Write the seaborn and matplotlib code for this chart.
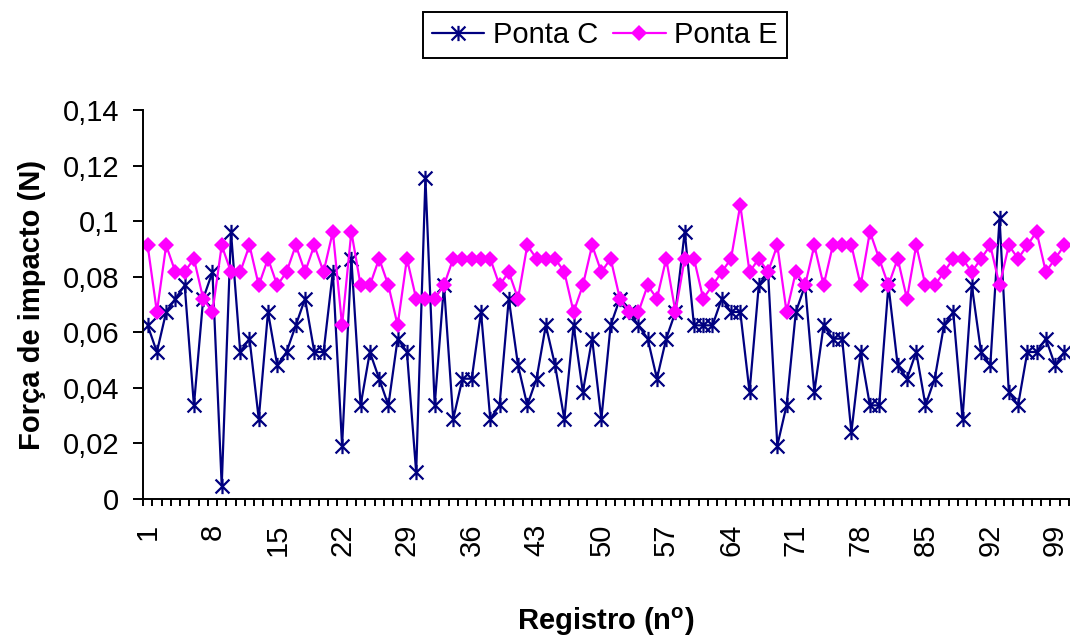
import numpy as np
import pandas as pd
import seaborn as sns
import matplotlib
matplotlib.use('Agg')
import matplotlib.pyplot as plt
from matplotlib.path import Path

# Registro numbers (1..100)
registro = list(range(1, 101))

# Força de impacto (N)
ponta_c = [0.0625, 0.0529, 0.0673, 0.0721, 0.0769, 0.0337, 0.0721, 0.0817, 0.0048, 0.0962,
           0.0529, 0.0577, 0.0288, 0.0673, 0.0481, 0.0529, 0.0625, 0.0721, 0.0529, 0.0529,
           0.0817, 0.0192, 0.0865, 0.0337, 0.0529, 0.0433, 0.0337, 0.0577, 0.0529, 0.0096,
           0.1154, 0.0337, 0.0769, 0.0288, 0.0433, 0.0433, 0.0673, 0.0288, 0.0337, 0.0721,
           0.0481, 0.0337, 0.0433, 0.0625, 0.0481, 0.0288, 0.0625, 0.0385, 0.0577, 0.0288,
           0.0625, 0.0721, 0.0673, 0.0625, 0.0577, 0.0433, 0.0577, 0.0673, 0.0962, 0.0625,
           0.0625, 0.0625, 0.0721, 0.0673, 0.0673, 0.0385, 0.0769, 0.0817, 0.0192, 0.0337,
           0.0673, 0.0769, 0.0385, 0.0625, 0.0577, 0.0577, 0.0240, 0.0529, 0.0337, 0.0337,
           0.0769, 0.0481, 0.0433, 0.0529, 0.0337, 0.0433, 0.0625, 0.0673, 0.0288, 0.0769,
           0.0529, 0.0481, 0.1010, 0.0385, 0.0337, 0.0529, 0.0529, 0.0577, 0.0481, 0.0529]

ponta_e = [0.0913, 0.0673, 0.0913, 0.0817, 0.0817, 0.0865, 0.0721, 0.0673, 0.0913, 0.0817,
           0.0817, 0.0913, 0.0769, 0.0865, 0.0769, 0.0817, 0.0913, 0.0817, 0.0913, 0.0817,
           0.0962, 0.0625, 0.0962, 0.0769, 0.0769, 0.0865, 0.0769, 0.0625, 0.0865, 0.0721,
           0.0721, 0.0721, 0.0769, 0.0865, 0.0865, 0.0865, 0.0865, 0.0865, 0.0769, 0.0817,
           0.0721, 0.0913, 0.0865, 0.0865, 0.0865, 0.0817, 0.0673, 0.0769, 0.0913, 0.0817,
           0.0865, 0.0721, 0.0673, 0.0673, 0.0769, 0.0721, 0.0865, 0.0673, 0.0865, 0.0865,
           0.0721, 0.0769, 0.0817, 0.0865, 0.1058, 0.0817, 0.0865, 0.0817, 0.0913, 0.0673,
           0.0817, 0.0769, 0.0913, 0.0769, 0.0913, 0.0913, 0.0913, 0.0769, 0.0962, 0.0865,
           0.0769, 0.0865, 0.0721, 0.0913, 0.0769, 0.0769, 0.0817, 0.0865, 0.0865, 0.0817,
           0.0865, 0.0913, 0.0769, 0.0913, 0.0865, 0.0913, 0.0962, 0.0817, 0.0865, 0.0913]

# Axis ticks
x_tick_values = list(range(1, 101, 7))
y_tick_values = [0, 0.02, 0.04, 0.06, 0.08, 0.1, 0.12, 0.14]
y_tick_labels = ['0', '0,02', '0,04', '0,06', '0,08', '0,1', '0,12', '0,14']

# Style
sns.set_theme(style='ticks')
plt.rcParams['font.family'] = ['Liberation Sans', 'DejaVu Sans']
plt.rcParams['mathtext.fontset'] = 'custom'
plt.rcParams['mathtext.rm'] = 'Liberation Sans'
plt.rcParams['mathtext.bf'] = 'Liberation Sans:bold'
plt.rcParams['text.color'] = 'black'
plt.rcParams['axes.labelcolor'] = 'black'
plt.rcParams['xtick.color'] = 'black'
plt.rcParams['ytick.color'] = 'black'

# Excel-like star marker (X with a vertical bar)
star = Path([(-1, -1), (1, 1), (-1, 1), (1, -1), (0, -1.1), (0, 1.1)],
            [Path.MOVETO, Path.LINETO, Path.MOVETO, Path.LINETO, Path.MOVETO, Path.LINETO])

fig = plt.figure(figsize=(10.71, 6.37), dpi=100)
ax = fig.add_axes([143 / 1071, 1 - 499 / 637, 926 / 1071, 389 / 637])

sns.lineplot(x=registro, y=ponta_c, ax=ax, color='#000080', linewidth=1.6,
             marker=star, markersize=11, markeredgewidth=1.6, markeredgecolor='#000080',
             label='Ponta C')
sns.lineplot(x=registro, y=ponta_e, ax=ax, color='#FF00FF', linewidth=1.6,
             marker='D', markersize=8, markeredgewidth=0, markerfacecolor='#FF00FF',
             label='Ponta E')

ax.set_xlim(0.5, 100.5)
ax.set_ylim(0, 0.14)

ax.set_xticks(x_tick_values)
ax.set_xticklabels([str(v) for v in x_tick_values], rotation=90, fontsize=21, va='top')
ax.set_xticks(np.arange(0.5, 101, 1), minor=True)
ax.tick_params(axis='x', which='major', length=0, pad=18)
ax.tick_params(axis='x', which='minor', length=5, width=1.4, color='black', direction='out')

ax.set_yticks(y_tick_values)
ax.set_yticklabels(y_tick_labels, fontsize=21)
ax.tick_params(axis='y', length=7, width=1.4, color='black', direction='out', pad=10)

for side in ['top', 'right']:
    ax.spines[side].set_visible(False)
for side in ['left', 'bottom']:
    ax.spines[side].set_color('black')
    ax.spines[side].set_linewidth(1.4)

ax.set_ylabel('Força de impacto (N)', fontsize=21, fontweight='bold', labelpad=12)
ax.set_xlabel(r'Registro (n$^{\mathbf{o}}$)', fontsize=21, fontweight='bold', labelpad=35)

leg = ax.legend(loc='center', bbox_to_anchor=(605 / 1071, 1 - 35 / 637),
                bbox_transform=fig.transFigure, ncol=2, fontsize=21, frameon=True,
                fancybox=False, framealpha=1, edgecolor='black', handlelength=1.8,
                handletextpad=0.3, columnspacing=0.5, borderpad=0.3, borderaxespad=0)
leg.get_frame().set_linewidth(1.4)

fig.savefig('out.png', dpi=100)
